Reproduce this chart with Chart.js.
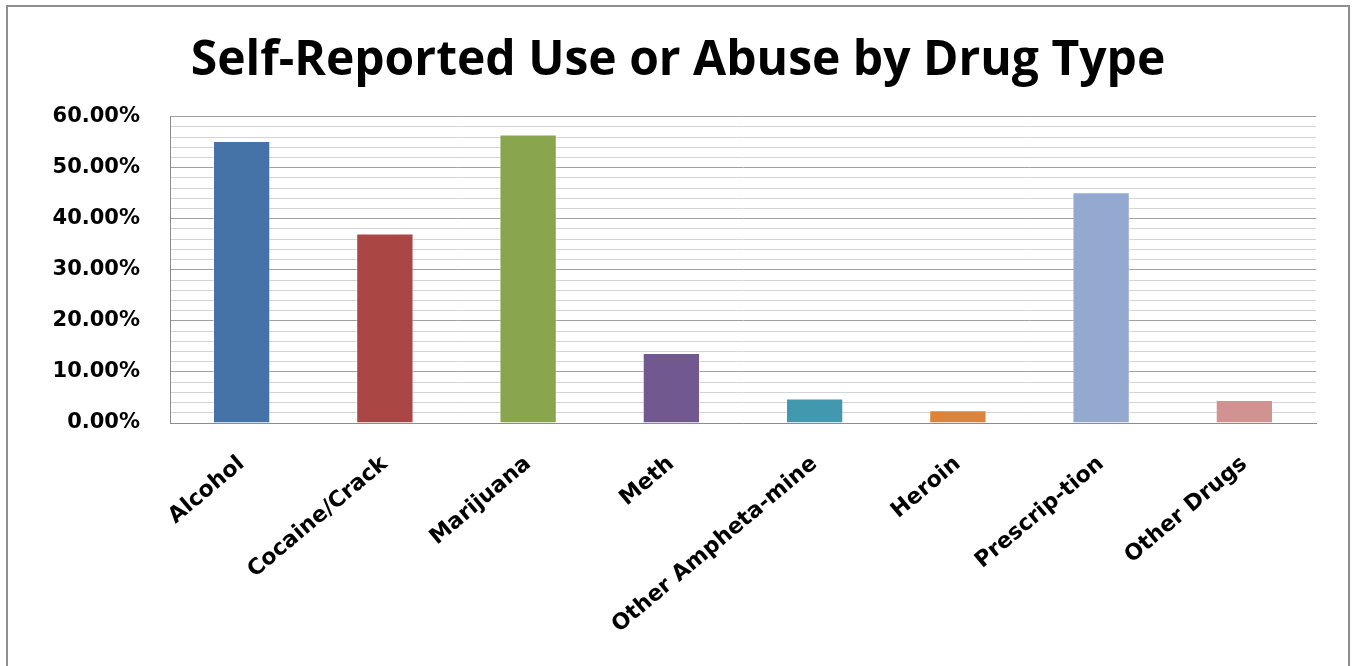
<!DOCTYPE html>
<html>
<head>
<meta charset="utf-8">
<title>Self-Reported Use or Abuse by Drug Type</title>
<script src="https://cdn.jsdelivr.net/npm/chart.js@4/dist/chart.umd.min.js"></script>
<style>
    html, body { margin: 0; padding: 0; background: #fff; overflow: hidden; }
    #frame {
        position: absolute; left: 6px; top: 5px;
        width: 1340px; height: 720px;
        border: 2px solid #8e8e8e;
    }
    #wrap { position: absolute; left: 0; top: 0; width: 1356px; height: 666px; }
</style>
</head>
<body>
<div id="frame"></div>
<div id="wrap"><canvas id="chart" width="1356" height="666"></canvas></div>
<script>
// 各类药物自报使用比例（%）
const drugTypes = ['Alcohol', 'Cocaine/Crack', 'Marijuana', 'Meth', 'Other Ampheta-mine', 'Heroin', 'Prescrip-tion', 'Other Drugs'];
const usePercent = [55.2, 37.1, 56.5, 13.7, 4.8, 2.5, 45.2, 4.5];
const barColors = ['#4572A7', '#AA4643', '#89A54E', '#71588F', '#4198AF', '#DB843D', '#93A9CF', '#D19392'];
const yTickLabels = [0, 10, 20, 30, 40, 50, 60];

const titleFont = "'Open Sans', sans-serif";
const axisFont = "'DejaVu Sans', sans-serif";

new Chart(document.getElementById('chart').getContext('2d'), {
    type: 'bar',
    data: {
        labels: drugTypes,
        datasets: [{
            data: usePercent,
            backgroundColor: barColors,
            borderColor: 'rgba(255,255,255,0.5)',
            borderWidth: 1,
            categoryPercentage: 1,
            barPercentage: 0.4
        }]
    },
    options: {
        responsive: false,
        animation: false,
        // 左右留白相同，标题才居中
        layout: { padding: { left: 40, right: 40, top: 0, bottom: 0 } },
        plugins: {
            legend: { display: false },
            tooltip: { enabled: false },
            title: {
                display: true,
                text: 'Self-Reported Use or Abuse by Drug Type',
                color: '#000',
                font: { family: titleFont, size: 48, weight: 'bold', lineHeight: 1.2 },
                padding: { top: 33, bottom: 26 }
            }
        },
        scales: {
            x: {
                grid: { display: false },
                border: { display: true, color: '#8c8c8c', width: 1 },
                ticks: {
                    color: '#000',
                    font: { family: axisFont, size: 22, weight: 'bold' },
                    minRotation: 40,
                    maxRotation: 40,
                    autoSkip: false,
                    padding: 20
                },
                afterFit(scale) { scale.height = 243; }
            },
            y: {
                min: 0,
                max: 60,
                grid: {
                    drawTicks: false,
                    color: ctx => (ctx.tick && yTickLabels.includes(ctx.tick.value)) ? '#a0a0a0' : '#d4d4d4',
                    lineWidth: 1
                },
                border: { display: true, color: '#8c8c8c', width: 1 },
                ticks: {
                    stepSize: 2,
                    autoSkip: false,
                    padding: 30,
                    color: '#000',
                    font: { family: axisFont, size: 21, weight: 'bold' },
                    callback: v => yTickLabels.includes(v) ? v.toFixed(2) + '%' : ''
                },
                afterFit(scale) { scale.width = 130; }
            }
        }
    }
});
</script>
</body>
</html>
